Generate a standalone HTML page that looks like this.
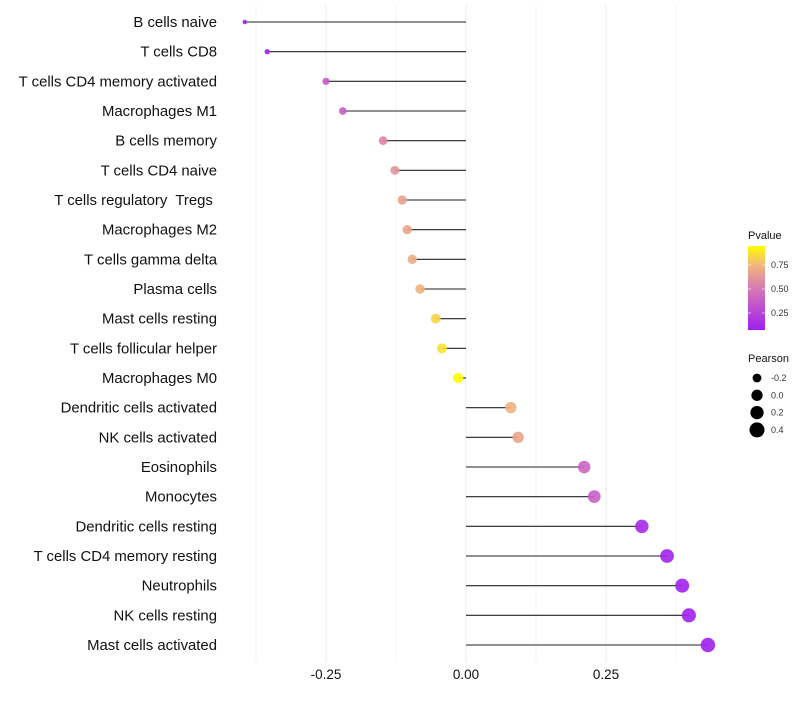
<!DOCTYPE html>
<html><head><meta charset="utf-8"><style>
body{margin:0;background:#fff;}
svg{font-family:"Liberation Sans",sans-serif;}
text{white-space:pre;}
</style></head><body>
<svg id="c" width="800" height="700">
<defs><linearGradient id="pg" x1="0" y1="1" x2="0" y2="0">
<stop offset="0" stop-color="#a020f0"/><stop offset="0.5" stop-color="#d77ab4"/><stop offset="0.78" stop-color="#f2b87a"/><stop offset="1" stop-color="#ffff00"/>
</linearGradient></defs>
</svg>
<script>
const categories=["B cells naive","T cells CD8","T cells CD4 memory activated","Macrophages M1","B cells memory","T cells CD4 naive","T cells regulatory  Tregs ","Macrophages M2","T cells gamma delta","Plasma cells","Mast cells resting","T cells follicular helper","Macrophages M0","Dendritic cells activated","NK cells activated","Eosinophils","Monocytes","Dendritic cells resting","T cells CD4 memory resting","Neutrophils","NK cells resting","Mast cells activated"];
const pearson=[-0.395,-0.355,-0.25,-0.22,-0.148,-0.127,-0.114,-0.105,-0.096,-0.082,-0.054,-0.043,-0.014,0.080,0.093,0.211,0.229,0.314,0.359,0.386,0.398,0.432];
const pvalue=[0.05,0.08,0.35,0.38,0.55,0.62,0.68,0.70,0.72,0.75,0.85,0.88,0.95,0.75,0.70,0.40,0.38,0.12,0.10,0.08,0.06,0.05];
const xTicks=[-0.25,0,0.25];
const xTickLabels=["-0.25","0.00","0.25"];
const pTicks=[0.25,0.5,0.75];
const sizeBreaks=[-0.2,0.0,0.2,0.4];
const NS="http://www.w3.org/2000/svg",svg=document.getElementById('c');
const x=v=>466+v*560, y=i=>22+i*29.667;
const pY=p=>265-(p-0.75)*96;
const rad=v=>Math.sqrt(5+47*(v+0.395)/0.827);
function mk(t,a,p){const e=document.createElementNS(NS,t);for(const k in a)e.setAttribute(k,a[k]);(p||svg).appendChild(e);return e;}
const stops=[[0.07,[160,32,240]],[0.5,[215,122,180]],[0.78,[242,184,122]],[0.95,[255,255,0]]];
function col(p){if(p<=stops[0][0])return 'rgb('+stops[0][1]+')';for(let i=1;i<stops.length;i++){if(p<=stops[i][0]){const a=stops[i-1],b=stops[i],t=(p-a[0])/(b[0]-a[0]);return 'rgb('+a[1].map((c,j)=>Math.round(c+(b[1][j]-c)*t))+')';}}return 'rgb(255,255,0)';}
[-0.375,-0.125,0.125,0.375].forEach(v=>{const g=mk('line',{x1:x(v),x2:x(v),y1:5,y2:662,stroke:'#f2f2f2','stroke-width':0.8});

});
xTicks.forEach((v,i)=>{const g=mk('line',{x1:x(v),x2:x(v),y1:5,y2:662,stroke:'#ebebeb','stroke-width':1});


const t=mk('text',{x:x(v),y:679,'text-anchor':'middle','font-size':13.5,fill:'#111'});t.textContent=xTickLabels[i];

});
categories.forEach((c,i)=>{
const t=mk('text',{x:217,y:y(i)+5,'text-anchor':'end','font-size':14.9,fill:'#111'});t.textContent=c;


const l=mk('line',{x1:x(0),x2:x(pearson[i]),y1:y(i),y2:y(i),stroke:'#222','stroke-width':1.1});


const d=mk('circle',{cx:x(pearson[i]),cy:y(i),r:rad(pearson[i]),fill:col(pvalue[i]),'fill-opacity':0.9});


});
const lt=mk('text',{x:748,y:239,'font-size':11,fill:'#111'});lt.textContent='Pvalue';


const cb=mk('rect',{x:748,y:246,width:17,height:84,fill:'url(#pg)'});


pTicks.forEach(p=>{const t=mk('text',{x:771,y:pY(p)+3,'font-size':9,fill:'#333'});t.textContent=p.toFixed(2);


mk('line',{x1:748,x2:751,y1:pY(p),y2:pY(p),stroke:'#fff','stroke-width':0.6});mk('line',{x1:762,x2:765,y1:pY(p),y2:pY(p),stroke:'#fff','stroke-width':0.6});});
const st=mk('text',{x:748,y:362,'font-size':11,fill:'#111'});st.textContent='Pearson';


sizeBreaks.forEach((v,i)=>{const yy=378+i*17.3;
const d=mk('circle',{cx:757,cy:yy,r:rad(v)+0.4,fill:'#000'});


const t=mk('text',{x:771,y:yy+3,'font-size':9,fill:'#333'});t.textContent=v.toFixed(1);

});
</script>
</body></html>
